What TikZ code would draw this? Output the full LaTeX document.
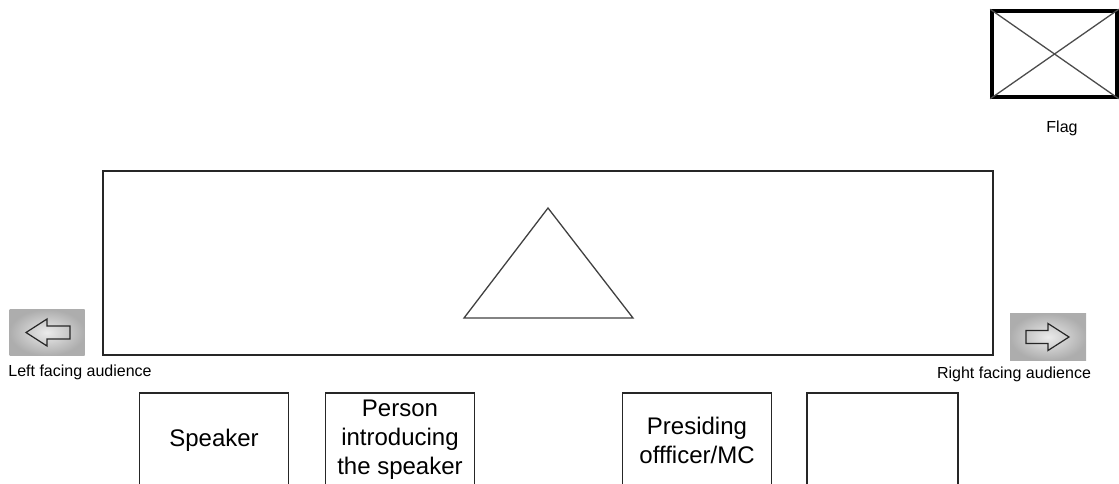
\documentclass[tikz,border=0pt]{standalone}
\usepackage{fontspec}
\setmainfont{Liberation Sans}
\usetikzlibrary{positioning}

\begin{document}
\begin{tikzpicture}[x=1pt,y=-1pt]
	\tikzset{SeatStyle/.style =
	{draw,
		line width = 1.5pt,
		minimum width = 149pt,
		minimum height = 130pt,
		anchor = north,
		color = black!85},
	SeatText/.style = {align = center,
		font = \fontsize{24}{29}\selectfont},
	NoteText/.style = {font = \fontsize{16}{19}\selectfont},
	ButtonStyle/.style =
	{shading = radial,
		inner color = black!8,
		%outer color = gray,
		outer color = black!32,
		minimum width = 75pt,
		minimum height = 46pt},
	ArrowStyle/.style = {draw = black!85, line width = 1.2pt, line join = miter}}
\clip (0,0) rectangle (1119,483);

% flag
\node[draw, line width = 3.5pt, minimum width = 125pt, minimum height = 86pt] (flag) at (1054.5,54) {};
\draw[black!70, line width = 1.3pt] (flag.north west) -- (flag.south east);
\draw[black!70, line width = 1.3pt] (flag.south west) -- (flag.north east);
\node[NoteText] (flaglabel) at (1062,128) {Flag};

% stage
\node[draw, color = black!85, line width = 2pt, minimum width = 890pt, minimum height = 184pt] (stage) at (548,263) {};
\coordinate (apex) at (548,208);
\coordinate (baseL) at (464,318);
\coordinate (baseR) at (633,318);
\draw[black!75, line width = 1.3pt] (apex) -- (baseR) -- (baseL) -- cycle;

% facing buttons
\node[ButtonStyle] (leftbtn) at (47,332.5) {};
\draw[ArrowStyle, shift = {(leftbtn.center)}] (-21,0) -- (0,-13.5) -- (0,-6.5) -- (23,-6.5) -- (23,6.5) -- (0,6.5) -- (0,13.5) -- cycle;
\node[NoteText] (leftlabel) at (80,372) {Left facing audience};

\node[ButtonStyle, minimum width = 76pt, minimum height = 47pt] (rightbtn) at (1048,337) {};
\draw[ArrowStyle, shift = {(rightbtn.center)}] (21,0) -- (0,-13.5) -- (0,-6.5) -- (-22,-6.5) -- (-22,6.5) -- (0,6.5) -- (0,13.5) -- cycle;
\node[NoteText] (rightlabel) at (1014,374) {Right facing audience};

% seats
\node[SeatStyle] (speaker) at (214,392) {};
\node[SeatStyle] (introducer) at (400,392) {};
\node[SeatStyle] (presiding) at (697,392) {};
\node[SeatStyle, minimum width = 151pt] (spare) at (882.5,392) {};

\node[SeatText] (speakertext) at ([yshift = -48pt]speaker.north) {Speaker};
\node[SeatText] (introducertext) at ([yshift = -48pt]introducer.north) {Person\\introducing\\the speaker};
\node[SeatText] (presidingtext) at ([yshift = -48pt]presiding.north) {Presiding\\offficer/MC};

\end{tikzpicture}
\end{document}
